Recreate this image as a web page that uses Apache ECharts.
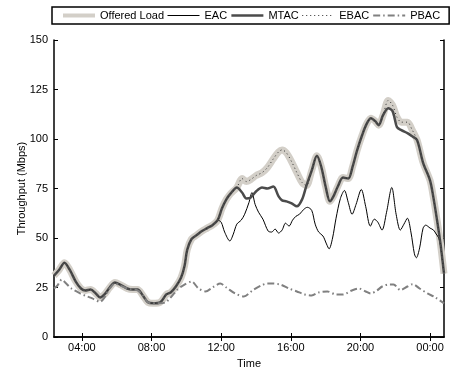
<!DOCTYPE html>
<html>
<head>
<meta charset="utf-8">
<script src="https://cdn.jsdelivr.net/npm/echarts@6/dist/echarts.min.js"></script>
<style>
html, body { margin: 0; padding: 0; background: #fff; }
#chart { width: 450px; height: 370px; }
</style>
</head>
<body>
<div id="chart"></div>
<script>
// hours of day (24.x = after midnight)
const hours = [2.4, 2.7, 3.0, 3.3, 3.65, 3.95, 4.2, 4.5, 4.8, 5.05,
	5.3, 5.6, 5.9, 6.2, 6.6, 6.9, 7.2, 7.5, 7.8, 8.1,
	8.5, 8.85, 9.1, 9.4, 9.7, 9.9, 10.05, 10.3, 10.6, 10.9,
	11.2, 11.5, 11.8,
	12.05, 12.3, 12.55, 12.9, 13.2, 13.45, 13.7, 14.0, 14.35, 14.65,
	15.0, 15.3, 15.5, 15.75, 16.05, 16.35, 16.65, 16.9, 17.2, 17.5,
	17.75, 18.0, 18.25, 18.45, 18.7, 19.0, 19.3, 19.55, 19.8, 20.1,
	20.35, 20.6, 20.85, 21.05, 21.3, 21.6, 21.85, 22.1, 22.35, 22.7,
	22.95, 23.25, 23.6, 24.0, 24.2, 24.4, 24.6, 24.8]
const offeredMbps = [31, 34, 37.5, 34, 28, 24.5, 23.5, 24, 22, 20,
	21.5, 25, 27.5, 26.5, 24.5, 24, 24, 21, 17.5, 17,
	17.5, 21.5, 22.5, 25.5, 30, 36, 44, 49.5, 51.5, 53.5,
	55, 56.5, 59,
	65, 69.5, 72.5, 75.5, 80, 78.5, 79.5, 81.5, 83, 85.5,
	90, 93.5, 94.5, 93, 88.5, 83, 78, 76.5, 84, 91.5,
	86, 76, 68.5, 71, 76, 80.5, 80, 86, 94, 102,
	107.5, 110.5, 109, 107, 112, 119.5, 117, 111, 108.5, 108.5,
	105, 99.5, 88, 79, 70, 59, 47, 32]
const mtacMbps = [31, 34, 37.5, 34, 28, 24.5, 23.5, 24, 22, 20,
	21.5, 25, 27.5, 26.5, 24.5, 24, 24, 21, 17.5, 17,
	17.5, 21.5, 22.5, 25.5, 30, 36, 44, 49.5, 51.5, 53.5,
	55, 56.5, 59,
	65, 69.5, 72.5, 75.5, 73, 70, 70.5, 73.5, 75.5, 75,
	76, 71, 69, 68.5, 67.5, 66, 69.5, 76.5, 84, 91.5,
	86, 76, 68.5, 71, 76, 80.5, 80, 86, 94, 102,
	107.5, 110.5, 109, 107, 112, 115.5, 114, 106, 104.5, 103,
	101.5, 99.5, 88, 79, 70, 59, 47, 32]
const ebacMbps = offeredMbps.slice()

const eacHours = [2.4, 2.7, 3.0, 3.3, 3.65, 3.95, 4.2, 4.5, 4.8, 5.05,
	5.3, 5.6, 5.9, 6.2, 6.6, 6.9, 7.2, 7.5, 7.8, 8.1,
	8.5, 8.85, 9.1, 9.4, 9.7, 9.9, 10.05, 10.3, 10.6, 10.9,
	11.2, 11.5, 11.8,
	12.0, 12.2, 12.5, 12.7, 12.9, 13.15, 13.35, 13.6, 13.77, 13.95,
	14.15, 14.4, 14.7, 14.9, 15.1, 15.3, 15.5, 15.7, 15.9, 16.1,
	16.3, 16.5, 16.75, 16.95, 17.2, 17.4, 17.6, 17.85, 18.05, 18.2,
	18.4, 18.6, 18.85, 19.08, 19.3, 19.52, 19.75, 20.05, 20.3, 20.57,
	20.8, 21.0, 21.24, 21.5, 21.8, 22.05, 22.29, 22.5, 22.7, 22.9,
	23.1, 23.21, 23.4, 23.6, 23.75, 24.0, 24.2, 24.35, 24.5, 24.6,
	24.8]
const eacMbps = [31, 34, 37.5, 34, 28, 24.5, 23.5, 24, 22, 20,
	21.5, 25, 27.5, 26.5, 24.5, 24, 24, 21, 17.5, 17,
	17.5, 21.5, 22.5, 25.5, 30, 36, 44, 49.5, 51.5, 53.5,
	55, 56.5, 59,
	58, 53, 48.5, 52, 57, 59, 62, 68, 73, 67,
	63, 59.5, 53.5, 53, 54.5, 52.5, 54, 57.5, 56, 59,
	61, 62, 64.5, 65.5, 64, 57, 53, 51, 47, 44.5,
	50, 60, 70, 74, 68, 62, 67, 74.5, 66, 56,
	59.5, 58, 54, 63, 75.5, 62, 54, 57, 60, 53,
	42, 40, 45, 55, 56.5, 55, 54, 52, 50, 46,
	32]

const pbacHours = [2.4, 2.6, 2.85, 3.1, 3.4, 3.9, 4.3, 4.6, 5.05, 5.3,
	5.6, 5.9, 6.2, 6.6, 6.9, 7.2, 7.5, 7.8, 8.1, 8.5,
	8.8, 9.0, 9.3, 9.5, 9.8, 10.3, 10.7, 11.1, 11.5, 11.95,
	12.3, 12.8, 13.3, 13.8, 14.3, 14.65, 15.0, 15.4, 15.9, 16.35,
	16.8, 17.2, 17.6, 18.1, 18.6, 19.0, 19.5, 19.9, 20.3, 20.6,
	20.95, 21.25, 21.6, 21.9, 22.3, 22.7, 23.0, 23.4, 23.85, 24.3,
	24.8]
const pbacMbps = [24.5, 26, 29, 27, 24.5, 22, 20.5, 19.5, 17.8, 20,
	24.5, 27, 26, 24.5, 24, 23.5, 21, 17.5, 17, 17,
	17.5, 19, 22, 24, 26, 28, 24.5, 23, 25, 27,
	25, 22, 20.5, 23.5, 26, 27, 27, 26.5, 24.5, 23,
	21.5, 21, 22.5, 23, 21.5, 21.5, 23.5, 24.5, 23, 22,
	23.5, 25.5, 26.5, 26.5, 23.7, 25.5, 26.7, 24.5, 22, 20,
	17]

const timeTicks = [4, 8, 12, 16, 20, 24]

const pairs = (xs, ys) => xs.map((x, i) => [x, ys[i]])
const hourLabel = (h) => String(h % 24).padStart(2, "0") + ":00"

const font = "'Liberation Sans', Arial, sans-serif"
const axisColor = "#000"

function lineSeries(name, data, style, z) {
	return {
		name,
		type: "line",
		data,
		symbol: "none",
		showSymbol: false,
		smooth: 0.3,
		z,
		lineStyle: style,
		itemStyle: { color: style.color },
		emphasis: { disabled: true },
	}
}

const chart = echarts.init(document.getElementById("chart"))
chart.setOption({
	animation: false,
	textStyle: { fontFamily: font },
	legend: {
		left: 52,
		top: 7,
		padding: [3, 9],
		itemGap: 3,
		itemWidth: 32,
		itemHeight: 12,
		borderColor: "#000",
		borderWidth: 1.5,
		borderRadius: 0,
		// hide the marker circle, keep only the line sample
		itemStyle: { opacity: 0 },
		textStyle: { fontSize: 11, color: "#000", fontFamily: font },
		data: [
			{ name: "Offered Load", lineStyle: { width: 4 } },
			{ name: "EAC", lineStyle: { width: 1 } },
			{ name: "MTAC", lineStyle: { width: 2.5 } },
			{ name: "EBAC", lineStyle: { width: 1 } },
			{ name: "PBAC", lineStyle: { width: 2 } },
		],
	},
	grid: {
		left: 54,
		top: 40,
		right: 6,
		bottom: 33,
		outerBoundsMode: "none",
	},
	xAxis: [
		{
			type: "value",
			min: 2.4,
			max: 24.8,
			name: "Time",
			nameLocation: "middle",
			nameGap: 21,
			nameMoveOverlap: false,
			nameTextStyle: { fontSize: 11, color: "#000" },
			axisLine: { show: true, lineStyle: { color: axisColor, width: 1.5 } },
			axisTick: { show: true, inside: true, length: 4, customValues: timeTicks, lineStyle: { color: axisColor } },
			axisLabel: { customValues: timeTicks, formatter: hourLabel, fontSize: 11, color: "#000", margin: 5 },
			splitLine: { show: false },
		},
		{
			type: "value",
			position: "top",
			min: 2.4,
			max: 24.8,
			axisLine: { show: true, lineStyle: { color: axisColor, width: 1.5 } },
			axisTick: { show: true, inside: true, length: 4, customValues: timeTicks, lineStyle: { color: axisColor } },
			axisLabel: { show: false },
			splitLine: { show: false },
		},
	],
	yAxis: [
		{
			type: "value",
			min: 0,
			max: 150,
			interval: 25,
			name: "Throughput (Mbps)",
			nameLocation: "middle",
			nameGap: 27,
			nameMoveOverlap: false,
			nameTextStyle: { fontSize: 11, color: "#000" },
			axisLine: { show: true, lineStyle: { color: axisColor, width: 1.5 } },
			axisTick: { show: true, inside: true, length: 4, lineStyle: { color: axisColor } },
			axisLabel: { fontSize: 11, color: "#000", margin: 6 },
			splitLine: { show: false },
		},
		{
			type: "value",
			position: "right",
			min: 0,
			max: 150,
			interval: 25,
			axisLine: { show: true, lineStyle: { color: axisColor, width: 1.5 } },
			axisTick: { show: true, inside: true, length: 4, lineStyle: { color: axisColor } },
			axisLabel: { show: false },
			splitLine: { show: false },
		},
	],
	series: [
		lineSeries("Offered Load", pairs(hours, offeredMbps), { color: "#d3cfc8", width: 7 }, 1),
		lineSeries("EAC", pairs(eacHours, eacMbps), { color: "#000", width: 1 }, 2),
		lineSeries("MTAC", pairs(hours, mtacMbps), { color: "#4b4b4b", width: 2.5 }, 3),
		lineSeries("EBAC", pairs(hours, ebacMbps), { color: "#2e2e2e", width: 1, type: [1, 3] }, 4),
		lineSeries("PBAC", pairs(pbacHours, pbacMbps), { color: "#808080", width: 2, type: [7, 3, 1.5, 3] }, 5),
	],
})
</script>
</body>
</html>
